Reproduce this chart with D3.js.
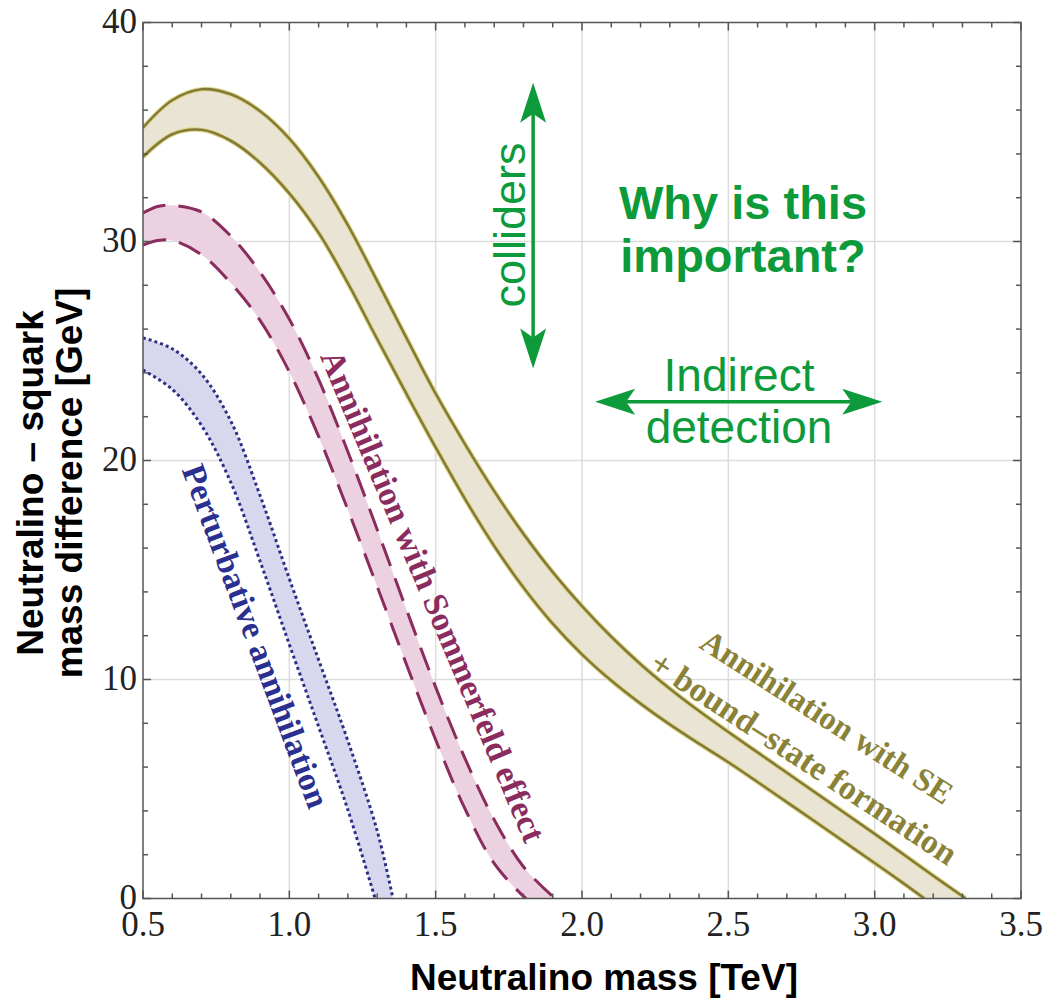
<!DOCTYPE html>
<html>
<head>
<meta charset="utf-8">
<script src="https://cdn.jsdelivr.net/npm/d3@7"></script>
<style>
  body { margin: 0; background: #fff; }
  svg { display: block; }
</style>
</head>
<body>
<svg id="chart" width="1045" height="999"></svg>
<script>
// ---------- DATA ----------
// Olive band: annihilation with SE + bound-state formation
const oliveUpperX = [0.5,0.6,0.7,0.8,0.9,1.0,1.1,1.2,1.3,1.4,1.5,1.6,1.7,1.8,1.9,2.0,2.1,2.2,2.3,2.4,2.5,2.6,2.7,2.8,2.9,3.0,3.1,3.2,3.3,3.31];
const oliveUpper  = [35.2,36.45,36.95,36.72,35.95,34.7,32.95,30.75,28.2,25.6,23.05,20.75,18.6,16.65,14.9,13.35,11.95,10.7,9.58,8.56,7.6,6.67,5.74,4.81,3.88,2.95,2.0,1.04,0.1,0];
const oliveLowerX = [0.5,0.6,0.7,0.8,0.9,1.0,1.1,1.2,1.3,1.4,1.5,1.6,1.7,1.8,1.9,2.0,2.1,2.2,2.3,2.4,2.5,2.6,2.7,2.8,2.9,3.0,3.1,3.17];
const oliveLower  = [33.87,34.9,35.1,34.6,33.6,32.2,30.4,28.1,25.55,23.05,20.6,18.25,16.1,14.2,12.55,11.15,9.95,8.9,7.95,7.07,6.22,5.32,4.4,3.48,2.55,1.62,0.68,0];

// Magenta band: annihilation with Sommerfeld effect
const magUpperX = [0.5,0.55,0.6,0.7,0.8,0.9,1.0,1.1,1.2,1.3,1.4,1.5,1.6,1.7,1.8,1.9,1.91];
const magUpper  = [31.3,31.6,31.65,31.35,30.25,28.6,26.45,23.7,20.4,16.85,13.2,9.65,6.4,3.6,1.45,0.1,0];
const magLowerX = [0.5,0.55,0.6,0.7,0.8,0.9,1.0,1.1,1.2,1.3,1.4,1.5,1.6,1.7,1.8,1.81];
const magLower  = [29.84,30.05,30.05,29.4,28.1,26.4,24.05,21.1,17.75,14.25,10.7,7.25,4.1,1.6,0.1,0];

// Blue band: perturbative annihilation
const bluUpperX = [0.5,0.6,0.7,0.8,0.9,1.0,1.1,1.2,1.3,1.354];
const bluUpper  = [25.6,25.1,23.95,21.8,18.4,14.6,10.9,7.2,3.1,0];
const bluLowerX = [0.5,0.6,0.7,0.8,0.9,1.0,1.1,1.2,1.293];
const bluLower  = [24.13,23.25,21.6,19.0,15.4,11.6,7.85,4.05,0];

const xTicks = [0.5,1.0,1.5,2.0,2.5,3.0,3.5];
const xTickLabels = ["0.5","1.0","1.5","2.0","2.5","3.0","3.5"];
const yTicks = [0,10,20,30,40];
const yTickLabels = ["0","10","20","30","40"];

// ---------- LAYOUT ----------
const svg = d3.select("#chart");
const L = 143, T = 22.5, R = 1021, B = 898.5;
const x = d3.scaleLinear().domain([0.5,3.5]).range([L,R]);
const y = d3.scaleLinear().domain([0,40]).range([B,T]);

const serif = "'Liberation Serif', 'Times New Roman', serif";
const sans = "'Liberation Sans', Arial, sans-serif";

svg.append("defs").append("clipPath").attr("id","plotclip")
  .append("rect").attr("x", L).attr("y", T).attr("width", R-L).attr("height", B-T);

// grid
const g = svg.append("g");
[1.0,1.5,2.0,2.5,3.0].forEach(v => g.append("line")
  .attr("x1", x(v)).attr("x2", x(v)).attr("y1", T).attr("y2", B)
  .attr("stroke", "#dcdcdc").attr("stroke-width", 1.5));
[10,20,30].forEach(v => g.append("line")
  .attr("x1", L).attr("x2", R).attr("y1", y(v)).attr("y2", y(v))
  .attr("stroke", "#dcdcdc").attr("stroke-width", 1.5));

// bands
const plot = svg.append("g").attr("clip-path","url(#plotclip)");
const line = d3.line().x(d => x(d[0])).y(d => y(d[1])).curve(d3.curveCatmullRom.alpha(0.5));
function band(ux, uy, lx, ly, fill, stroke, dash, sw, halo) {
  const upPts = ux.map((v,i) => [v, uy[i]]);
  const loPts = lx.map((v,i) => [v, ly[i]]);
  const areaD = line(upPts) + "L" + line(loPts.slice().reverse()).slice(1) + "Z";
  plot.append("path").attr("d", areaD).attr("fill", fill);
  [upPts, loPts].forEach(p => {
    if (halo) plot.append("path").attr("d", line(p)).attr("fill","none")
      .attr("stroke", halo).attr("stroke-width", sw + 2.2);
    const path = plot.append("path").attr("d", line(p)).attr("fill","none")
      .attr("stroke", stroke).attr("stroke-width", sw);
    if (dash) path.attr("stroke-dasharray", dash);
  });
}
band(oliveUpperX, oliveUpper, oliveLowerX, oliveLower, "#e9e4d4", "#857b38", null, 2.6, "#e2da93");
band(magUpperX, magUpper, magLowerX, magLower, "#ecd2e1", "#8b2c5e", "24,13", 3, null);
band(bluUpperX, bluUpper, bluLowerX, bluLower, "#d7d8ee", "#2b2f86", "3,3", 3, null);

// frame & ticks
const ax = svg.append("g").attr("stroke", "#555").attr("stroke-width", 1.5);
ax.append("rect").attr("x", L).attr("y", T).attr("width", R-L).attr("height", B-T).attr("fill","none");
d3.range(5, 36).forEach(k => {
  const v = k/10, major = (k % 5 === 0), len = major ? 8 : 5;
  ax.append("line").attr("x1", x(v)).attr("x2", x(v)).attr("y1", B).attr("y2", B-len);
  ax.append("line").attr("x1", x(v)).attr("x2", x(v)).attr("y1", T).attr("y2", T+len);
});
d3.range(0, 41, 2).forEach(v => {
  const major = (v % 10 === 0), len = major ? 8 : 5;
  ax.append("line").attr("x1", L).attr("x2", L+len).attr("y1", y(v)).attr("y2", y(v));
  ax.append("line").attr("x1", R).attr("x2", R-len).attr("y1", y(v)).attr("y2", y(v));
});

// tick labels
xTicks.forEach((v,i) => svg.append("text").attr("x", x(v)).attr("y", 936)
  .attr("text-anchor","middle").attr("font-family", serif).attr("font-size", 35)
  .attr("fill","#222").text(xTickLabels[i]));
yTicks.forEach((v,i) => svg.append("text").attr("x", 137).attr("y", y(v)).attr("dy","0.3em")
  .attr("text-anchor","end").attr("font-family", serif).attr("font-size", 35)
  .attr("fill","#222").text(yTickLabels[i]));

// axis titles
svg.append("text").attr("x", 604).attr("y", 990).attr("text-anchor","middle")
  .attr("font-family", sans).attr("font-weight","bold").attr("font-size", 37)
  .attr("fill","#000").text("Neutralino mass [TeV]");
const yt = svg.append("text").attr("transform","translate(43,483) rotate(-90)")
  .attr("text-anchor","middle").attr("font-family", sans).attr("font-weight","bold")
  .attr("font-size", 37).attr("fill","#000");
yt.append("tspan").attr("x",0).attr("y",0).text("Neutralino \u2013 squark");
yt.append("tspan").attr("x",0).attr("y",39).text("mass difference [GeV]");

// curve labels
function rlabel(cx, cy, ang, txt, col, size) {
  svg.append("text").attr("transform", `translate(${cx},${cy}) rotate(${ang})`)
    .attr("text-anchor","middle").attr("dominant-baseline","central")
    .attr("font-family", serif).attr("font-weight","bold").attr("font-size", size)
    .attr("fill", col).text(txt);
}
rlabel(256, 636, 69.5, "Perturbative annihilation", "#2b2f8f", 33.5);
rlabel(433, 596, 67.2, "Annihilation with Sommerfeld effect", "#8b2c5e", 34);
rlabel(827, 717, 32.8, "Annihilation with SE", "#8a8236", 32.5);
rlabel(804, 758, 33.3, "+ bound\u2013state formation", "#8a8236", 34);

// annotations (green)
const green = "#0c9a3a";
const vx = x(1.833), vTop = y(37.25), vBot = y(24.2);
const hy = y(22.68), hL = x(2.045), hR = x(3.026);
const hl = 40, hw = 13, notch = 9;
svg.append("line").attr("x1", vx).attr("x2", vx).attr("y1", vTop+hl-notch).attr("y2", vBot-hl+notch)
  .attr("stroke", green).attr("stroke-width", 3.5);
svg.append("path").attr("fill", green)
  .attr("d", `M${vx},${vTop} L${vx+hw},${vTop+hl} L${vx},${vTop+hl-notch} L${vx-hw},${vTop+hl} Z`);
svg.append("path").attr("fill", green)
  .attr("d", `M${vx},${vBot} L${vx+hw},${vBot-hl} L${vx},${vBot-hl+notch} L${vx-hw},${vBot-hl} Z`);
svg.append("line").attr("x1", hL+hl-notch).attr("x2", hR-hl+notch).attr("y1", hy).attr("y2", hy)
  .attr("stroke", green).attr("stroke-width", 3.5);
svg.append("path").attr("fill", green)
  .attr("d", `M${hL},${hy} L${hL+hl},${hy-hw} L${hL+hl-notch},${hy} L${hL+hl},${hy+hw} Z`);
svg.append("path").attr("fill", green)
  .attr("d", `M${hR},${hy} L${hR-hl},${hy-hw} L${hR-hl+notch},${hy} L${hR-hl},${hy+hw} Z`);

svg.append("text").attr("transform", `translate(${vx-8},225) rotate(-90)`)
  .attr("text-anchor","middle").attr("font-family", sans).attr("font-size", 45)
  .attr("fill", green).text("colliders");
svg.append("text").attr("x", 739).attr("y", 391).attr("text-anchor","middle")
  .attr("font-family", sans).attr("font-size", 46).attr("fill", green).text("Indirect");
svg.append("text").attr("x", 739).attr("y", 443).attr("text-anchor","middle")
  .attr("font-family", sans).attr("font-size", 46).attr("fill", green).text("detection");
svg.append("text").attr("x", 743).attr("y", 219).attr("text-anchor","middle")
  .attr("font-family", sans).attr("font-weight","bold").attr("font-size", 47)
  .attr("fill", green).text("Why is this");
svg.append("text").attr("x", 743).attr("y", 272).attr("text-anchor","middle")
  .attr("font-family", sans).attr("font-weight","bold").attr("font-size", 47)
  .attr("fill", green).text("important?");
</script>
</body>
</html>
